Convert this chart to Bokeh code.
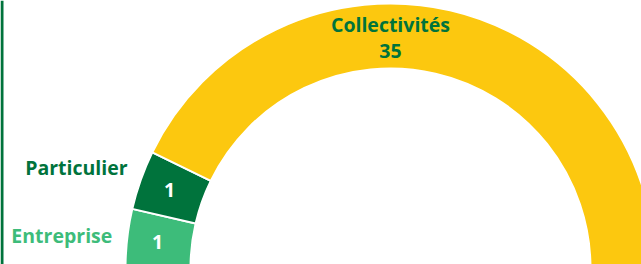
import math
from bokeh.plotting import figure
from bokeh.models import Range1d, ColumnDataSource, BoxAnnotation
from bokeh.core.properties import value
from bokeh.embed import file_html
from bokeh.resources import INLINE

# ---- data ----
categories = ["Entreprise", "Particulier", "Collectivités"]
values = [1, 1, 35]
colors = ["#3DBC7A", "#00733C", "#FCC80F"]
label_colors = ["#3DBC7A", "#00733C", "#00733C"]
value_colors = ["#FFFFFF", "#FFFFFF", "#00733C"]

# ---- layout ----
W, H = 641, 264
CX, CY = 390, -4
R_IN, R_OUT = 200, 265
MIN_DEG = 13.0
FONT = "Open Sans"
FS = "19.5px"
LABEL_DX = [1, 2, 0]   # small nudges of outside labels (px)
LABEL_DY = [1, 7, 0]

total = sum(values)
raw = [v / total * 180 for v in values]
small = [r < MIN_DEG for r in raw]
rest = 180 - MIN_DEG * sum(small)
big_total = sum(v for v, s in zip(values, small) if not s)
spans = [MIN_DEG if s else v / big_total * rest for v, s in zip(values, small)]

# slices run clockwise from the left (180°)
starts, ends, mids = [], [], []
a = 180.0
for sp in spans:
    ends.append(math.radians(a))
    starts.append(math.radians(a - sp))
    mids.append(a - sp / 2)
    a -= sp

src = ColumnDataSource(dict(cat=categories, val=values, color=colors,
                            start=starts, end=ends))

p = figure(width=W, height=H, x_range=Range1d(0, W), y_range=Range1d(0, H),
           output_backend="svg", toolbar_location=None, min_border=0)
p.axis.visible = False
p.grid.visible = False
p.outline_line_color = None
p.background_fill_color = "white"

p.annular_wedge(x=CX, y=CY, inner_radius=R_IN, outer_radius=R_OUT,
                start_angle="start", end_angle="end", fill_color="color",
                line_color="white", line_width=2, source=src)


def txt(x, y, t, color, align):
    p.text(x=[x], y=[y], text=[t], text_font=value(FONT), text_font_style="bold",
           text_font_size=FS, text_color=color, text_align=align,
           text_baseline="middle")


r_mid = (R_IN + R_OUT) / 2 + 2
for i, (cat, v, m, lc, vc, s) in enumerate(zip(categories, values, mids, label_colors,
                                                value_colors, small)):
    if s:
        rad = math.radians(m)
        txt(CX + r_mid * math.cos(rad), CY + r_mid * math.sin(rad), str(v), vc, "center")
        r_lab = R_OUT + 16
        txt(CX + r_lab * math.cos(rad) + LABEL_DX[i],
            CY + r_lab * math.sin(rad) + LABEL_DY[i], cat, lc, "right")
    else:
        txt(CX, CY + R_OUT - 20.5, cat, lc, "center")
        txt(CX, CY + R_OUT - 47, str(v), vc, "center")

p.add_layout(BoxAnnotation(left=0, right=3, fill_color="#00733C", fill_alpha=1,
                           line_alpha=0))

html = file_html(p, INLINE)
html = html.replace("<head>", "<head><style>html,body{margin:0;padding:0;}</style>", 1)
open("out.html", "w").write(html)
